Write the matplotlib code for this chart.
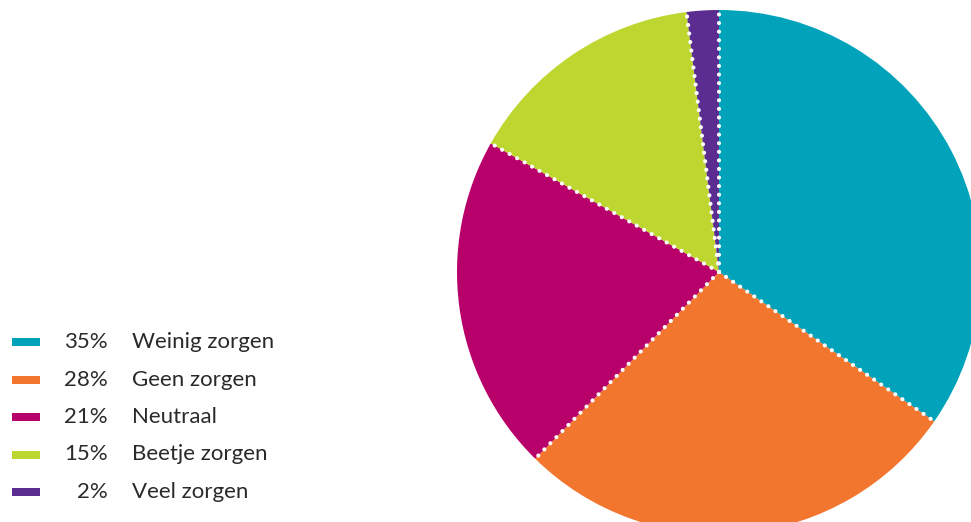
import numpy as np
import matplotlib
matplotlib.use('Agg')
import matplotlib.pyplot as plt
from matplotlib.patches import Rectangle

labels = ['Weinig zorgen', 'Geen zorgen', 'Neutraal', 'Beetje zorgen', 'Veel zorgen']
values = [35, 28, 21, 15, 2]
colors = ['#00A3BA', '#F2762E', '#B8006B', '#BED630', '#5C2D91']

W, H = 971, 522
fig = plt.figure(figsize=(W / 100, H / 100), dpi=100)
ax = fig.add_axes([0, 0, 1, 1])

cx, cy, r = 719, H - 272, 262
ax.pie(values, colors=colors, startangle=90, counterclock=False,
       center=(cx, cy), radius=r, frame=True,
       wedgeprops=dict(linewidth=0))
ax.set_xlim(0, W)
ax.set_ylim(0, H)
ax.set_aspect('equal')
ax.axis('off')

# dotted white separators between slices
total = sum(values)
angles = 90 - 360 * np.concatenate([[0], np.cumsum(values)]) / total
for a in angles[:-1]:
    t = np.deg2rad(a)
    ax.plot([cx, cx + r * np.cos(t)], [cy, cy + r * np.sin(t)],
            color='white', linewidth=3, linestyle=(0, (0.01, 2.05)),
            dash_capstyle='round', zorder=5)

# legend
fnt = dict(fontsize=16, family=['Liberation Sans Narrow', 'Lato'], color='#2a2a2a')
for i, (lab, v, c) in enumerate(zip(labels, values, colors)):
    y = H - (342 + i * 37.5)
    ax.add_patch(Rectangle((12, y - 4), 28, 8, color=c, linewidth=0))
    ax.text(108, y, f'{v}%', ha='right', va='center', **fnt)
    ax.text(132, y, lab, ha='left', va='center', **fnt)

fig.savefig('out.png', dpi=100)
